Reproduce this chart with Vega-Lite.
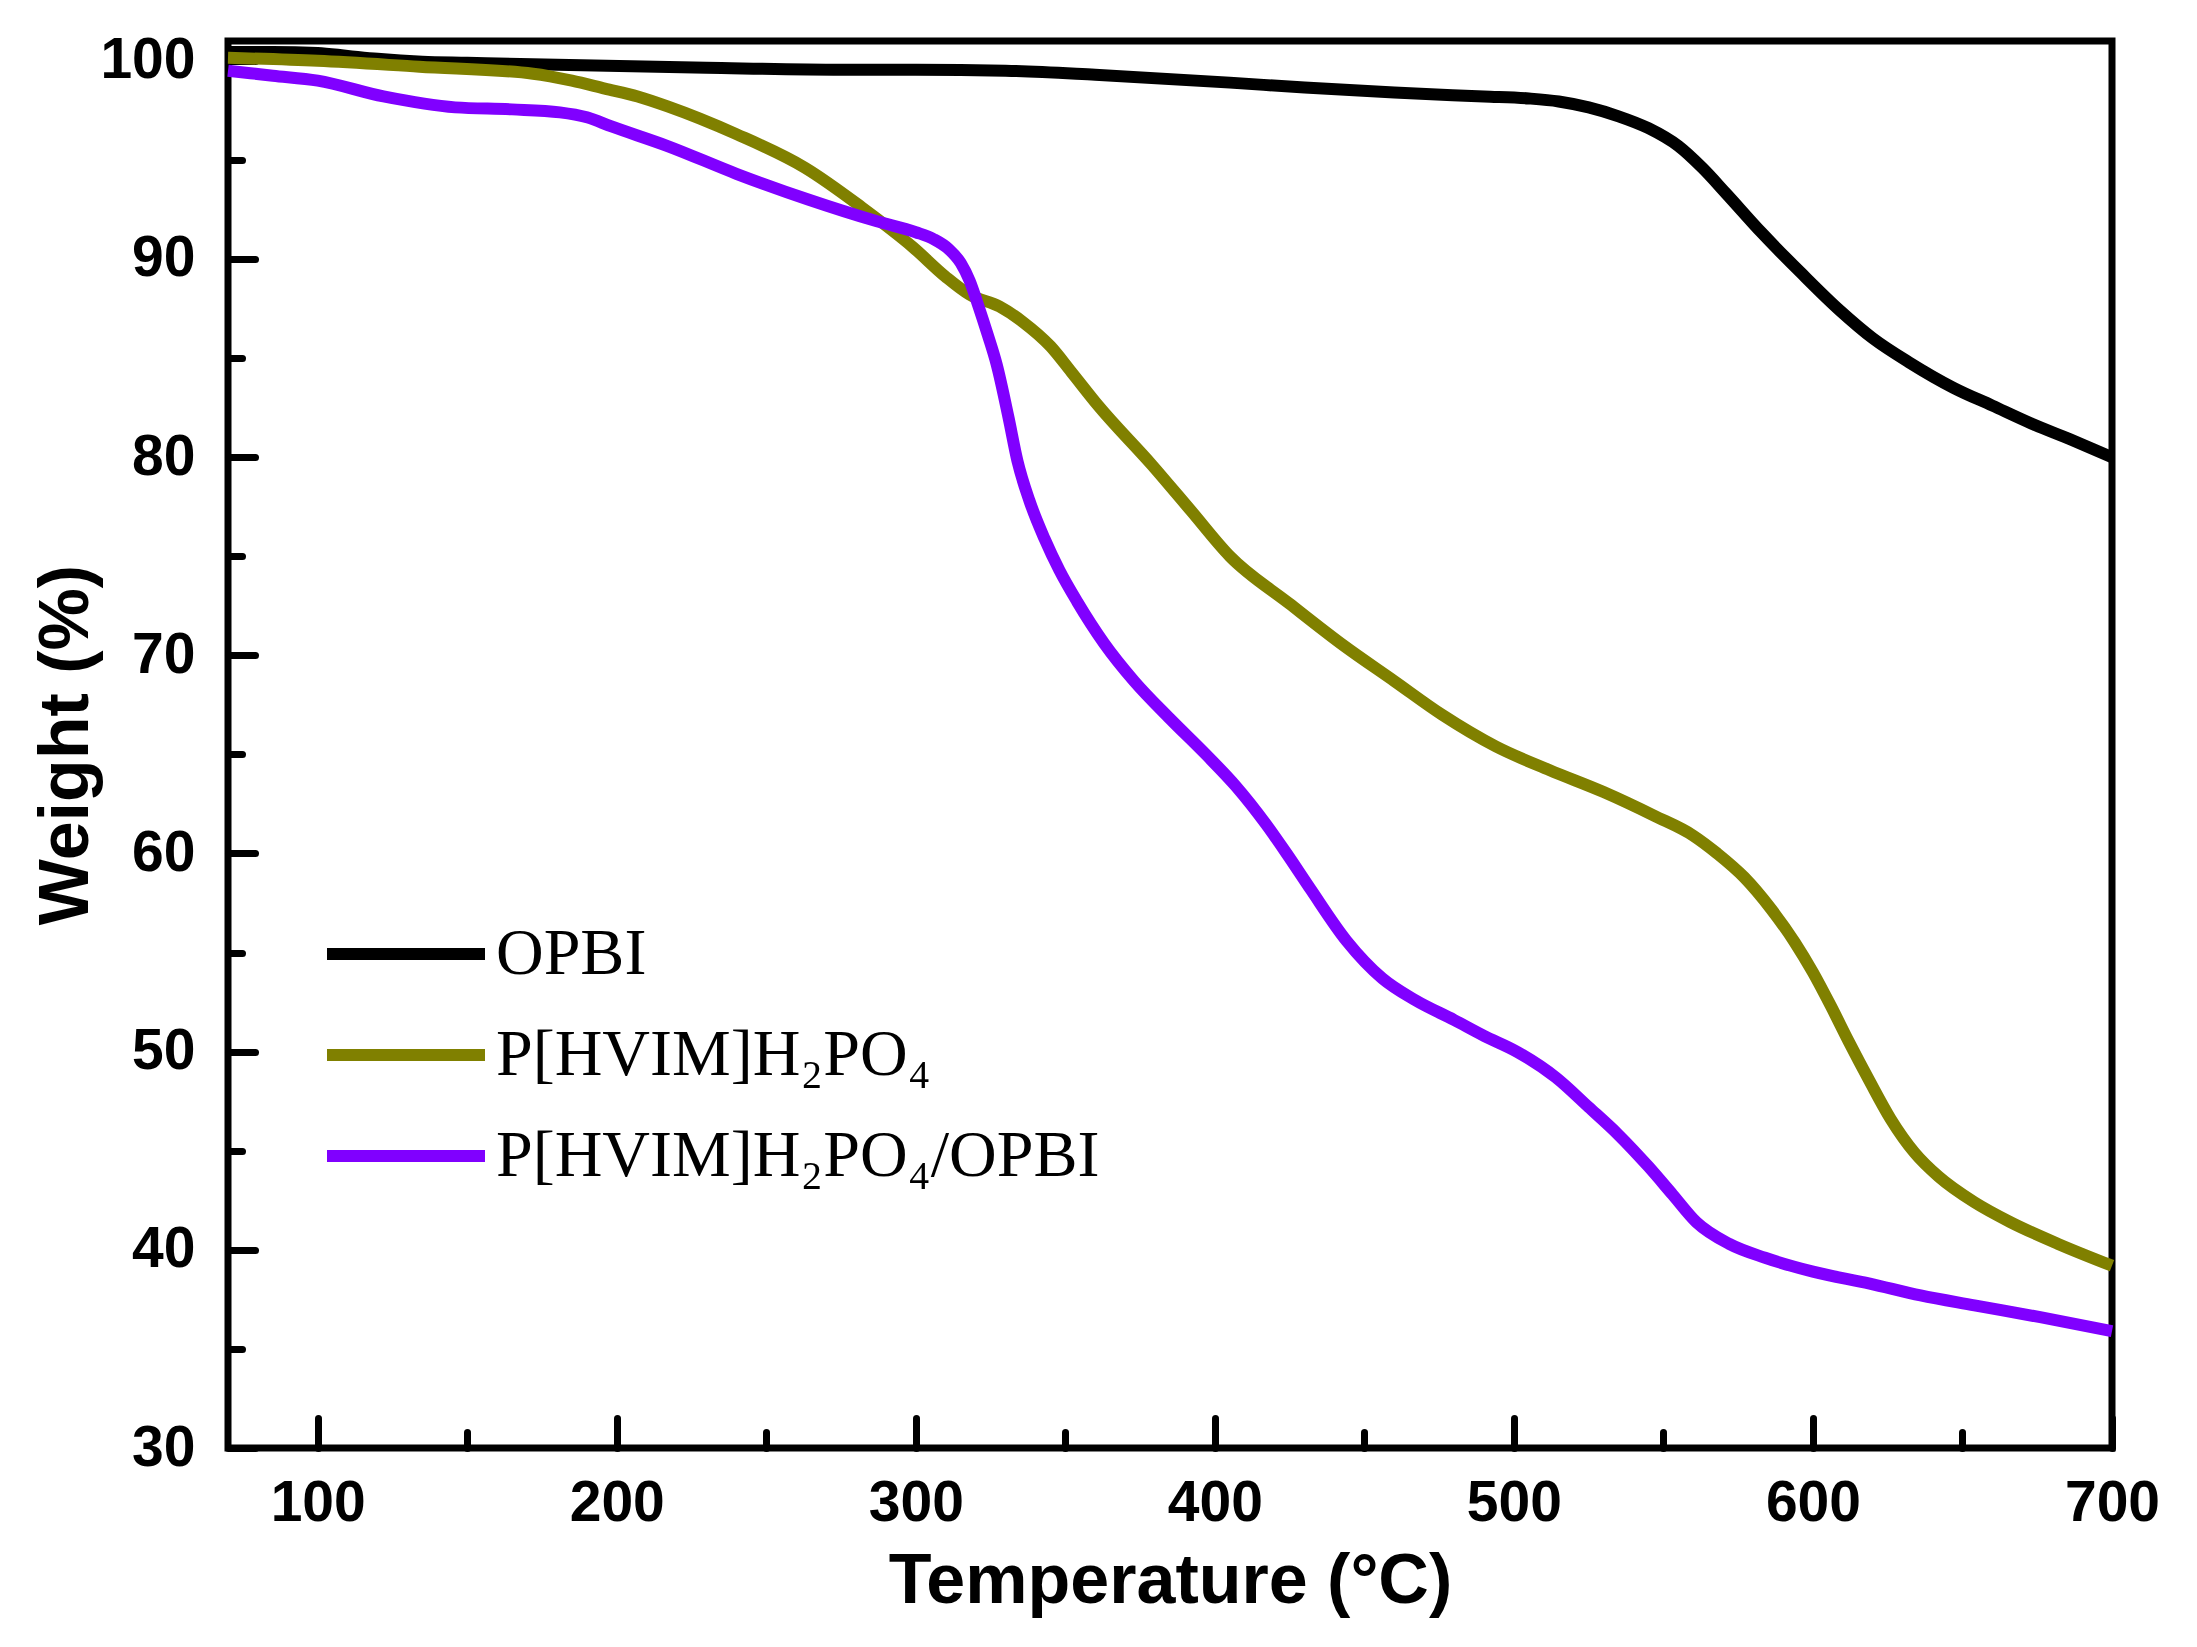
{
  "$schema": "https://vega.github.io/schema/vega-lite/v6.json",
  "description": "TGA curves of OPBI, P[HVIM]H2PO4 and the composite membrane",
  "width": 1884,
  "height": 1407,
  "autosize": {"type": "none"},
  "padding": {"left": 228, "top": 41, "right": 85, "bottom": 199},
  "background": "white",
  "config": {
    "view": {"stroke": "black", "strokeWidth": 7},
    "axis": {
      "domain": false,
      "grid": false,
      "labelFont": "Liberation Sans",
      "labelFontWeight": "bold",
      "labelFontSize": 57,
      "labelColor": "black",
      "labelFlush": false,
      "labelOverlap": false,
      "titleFont": "Liberation Sans",
      "titleFontWeight": "bold",
      "titleFontSize": 70,
      "titleColor": "black",
      "tickColor": "black",
      "tickWidth": 7,
      "tickCap": "round"
    }
  },
  "data": {
    "values": [
      {"series": "OPBI", "temp": 70, "weight": 100.45},
      {"series": "OPBI", "temp": 85, "weight": 100.45},
      {"series": "OPBI", "temp": 100, "weight": 100.4},
      {"series": "OPBI", "temp": 110, "weight": 100.25},
      {"series": "OPBI", "temp": 120, "weight": 100.1},
      {"series": "OPBI", "temp": 135, "weight": 99.95},
      {"series": "OPBI", "temp": 150, "weight": 99.9},
      {"series": "OPBI", "temp": 180, "weight": 99.8},
      {"series": "OPBI", "temp": 230, "weight": 99.65},
      {"series": "OPBI", "temp": 275, "weight": 99.55},
      {"series": "OPBI", "temp": 300, "weight": 99.55},
      {"series": "OPBI", "temp": 330, "weight": 99.5},
      {"series": "OPBI", "temp": 360, "weight": 99.3},
      {"series": "OPBI", "temp": 405, "weight": 98.9},
      {"series": "OPBI", "temp": 430, "weight": 98.65},
      {"series": "OPBI", "temp": 460, "weight": 98.4},
      {"series": "OPBI", "temp": 490, "weight": 98.2},
      {"series": "OPBI", "temp": 505, "weight": 98.1},
      {"series": "OPBI", "temp": 515, "weight": 97.95},
      {"series": "OPBI", "temp": 525, "weight": 97.65},
      {"series": "OPBI", "temp": 535, "weight": 97.2},
      {"series": "OPBI", "temp": 545, "weight": 96.6},
      {"series": "OPBI", "temp": 555, "weight": 95.7},
      {"series": "OPBI", "temp": 563, "weight": 94.6},
      {"series": "OPBI", "temp": 571, "weight": 93.3},
      {"series": "OPBI", "temp": 583, "weight": 91.3},
      {"series": "OPBI", "temp": 596, "weight": 89.3},
      {"series": "OPBI", "temp": 609, "weight": 87.4},
      {"series": "OPBI", "temp": 620, "weight": 86.0},
      {"series": "OPBI", "temp": 632, "weight": 84.8},
      {"series": "OPBI", "temp": 647, "weight": 83.5},
      {"series": "OPBI", "temp": 660, "weight": 82.6},
      {"series": "OPBI", "temp": 673, "weight": 81.7},
      {"series": "OPBI", "temp": 686, "weight": 80.9},
      {"series": "OPBI", "temp": 700, "weight": 80.0},

      {"series": "P[HVIM]H₂PO₄", "temp": 70, "weight": 100.15},
      {"series": "P[HVIM]H₂PO₄", "temp": 100, "weight": 100.0},
      {"series": "P[HVIM]H₂PO₄", "temp": 134, "weight": 99.7},
      {"series": "P[HVIM]H₂PO₄", "temp": 172, "weight": 99.35},
      {"series": "P[HVIM]H₂PO₄", "temp": 185, "weight": 99.0},
      {"series": "P[HVIM]H₂PO₄", "temp": 196, "weight": 98.6},
      {"series": "P[HVIM]H₂PO₄", "temp": 207, "weight": 98.2},
      {"series": "P[HVIM]H₂PO₄", "temp": 217, "weight": 97.7},
      {"series": "P[HVIM]H₂PO₄", "temp": 240, "weight": 96.3},
      {"series": "P[HVIM]H₂PO₄", "temp": 263, "weight": 94.6},
      {"series": "P[HVIM]H₂PO₄", "temp": 282, "weight": 92.6},
      {"series": "P[HVIM]H₂PO₄", "temp": 299, "weight": 90.6},
      {"series": "P[HVIM]H₂PO₄", "temp": 310, "weight": 89.1},
      {"series": "P[HVIM]H₂PO₄", "temp": 318, "weight": 88.2},
      {"series": "P[HVIM]H₂PO₄", "temp": 328, "weight": 87.6},
      {"series": "P[HVIM]H₂PO₄", "temp": 336, "weight": 86.8},
      {"series": "P[HVIM]H₂PO₄", "temp": 345, "weight": 85.6},
      {"series": "P[HVIM]H₂PO₄", "temp": 352, "weight": 84.3},
      {"series": "P[HVIM]H₂PO₄", "temp": 361, "weight": 82.6},
      {"series": "P[HVIM]H₂PO₄", "temp": 379, "weight": 79.6},
      {"series": "P[HVIM]H₂PO₄", "temp": 392, "weight": 77.3},
      {"series": "P[HVIM]H₂PO₄", "temp": 405, "weight": 75.0},
      {"series": "P[HVIM]H₂PO₄", "temp": 425, "weight": 72.6},
      {"series": "P[HVIM]H₂PO₄", "temp": 443, "weight": 70.5},
      {"series": "P[HVIM]H₂PO₄", "temp": 460, "weight": 68.7},
      {"series": "P[HVIM]H₂PO₄", "temp": 476, "weight": 67.0},
      {"series": "P[HVIM]H₂PO₄", "temp": 494, "weight": 65.4},
      {"series": "P[HVIM]H₂PO₄", "temp": 512, "weight": 64.2},
      {"series": "P[HVIM]H₂PO₄", "temp": 530, "weight": 63.1},
      {"series": "P[HVIM]H₂PO₄", "temp": 547, "weight": 61.9},
      {"series": "P[HVIM]H₂PO₄", "temp": 560, "weight": 60.9},
      {"series": "P[HVIM]H₂PO₄", "temp": 568, "weight": 60.0},
      {"series": "P[HVIM]H₂PO₄", "temp": 577, "weight": 58.8},
      {"series": "P[HVIM]H₂PO₄", "temp": 586, "weight": 57.2},
      {"series": "P[HVIM]H₂PO₄", "temp": 594, "weight": 55.5},
      {"series": "P[HVIM]H₂PO₄", "temp": 600, "weight": 54.0},
      {"series": "P[HVIM]H₂PO₄", "temp": 606, "weight": 52.3},
      {"series": "P[HVIM]H₂PO₄", "temp": 612, "weight": 50.5},
      {"series": "P[HVIM]H₂PO₄", "temp": 619, "weight": 48.5},
      {"series": "P[HVIM]H₂PO₄", "temp": 626, "weight": 46.6},
      {"series": "P[HVIM]H₂PO₄", "temp": 634, "weight": 44.9},
      {"series": "P[HVIM]H₂PO₄", "temp": 642, "weight": 43.7},
      {"series": "P[HVIM]H₂PO₄", "temp": 654, "weight": 42.4},
      {"series": "P[HVIM]H₂PO₄", "temp": 666, "weight": 41.4},
      {"series": "P[HVIM]H₂PO₄", "temp": 682, "weight": 40.3},
      {"series": "P[HVIM]H₂PO₄", "temp": 700, "weight": 39.2},

      {"series": "P[HVIM]H₂PO₄/OPBI", "temp": 70, "weight": 99.5},
      {"series": "P[HVIM]H₂PO₄/OPBI", "temp": 85, "weight": 99.25},
      {"series": "P[HVIM]H₂PO₄/OPBI", "temp": 100, "weight": 99.0},
      {"series": "P[HVIM]H₂PO₄/OPBI", "temp": 122, "weight": 98.2},
      {"series": "P[HVIM]H₂PO₄/OPBI", "temp": 146, "weight": 97.65},
      {"series": "P[HVIM]H₂PO₄/OPBI", "temp": 165, "weight": 97.55},
      {"series": "P[HVIM]H₂PO₄/OPBI", "temp": 181, "weight": 97.4},
      {"series": "P[HVIM]H₂PO₄/OPBI", "temp": 190, "weight": 97.15},
      {"series": "P[HVIM]H₂PO₄/OPBI", "temp": 198, "weight": 96.7},
      {"series": "P[HVIM]H₂PO₄/OPBI", "temp": 217, "weight": 95.7},
      {"series": "P[HVIM]H₂PO₄/OPBI", "temp": 240, "weight": 94.3},
      {"series": "P[HVIM]H₂PO₄/OPBI", "temp": 264, "weight": 93.0},
      {"series": "P[HVIM]H₂PO₄/OPBI", "temp": 287, "weight": 91.9},
      {"series": "P[HVIM]H₂PO₄/OPBI", "temp": 300, "weight": 91.35},
      {"series": "P[HVIM]H₂PO₄/OPBI", "temp": 306, "weight": 91.0},
      {"series": "P[HVIM]H₂PO₄/OPBI", "temp": 311, "weight": 90.5},
      {"series": "P[HVIM]H₂PO₄/OPBI", "temp": 315, "weight": 89.8},
      {"series": "P[HVIM]H₂PO₄/OPBI", "temp": 318, "weight": 88.9},
      {"series": "P[HVIM]H₂PO₄/OPBI", "temp": 321, "weight": 87.6},
      {"series": "P[HVIM]H₂PO₄/OPBI", "temp": 324, "weight": 86.2},
      {"series": "P[HVIM]H₂PO₄/OPBI", "temp": 327, "weight": 84.7},
      {"series": "P[HVIM]H₂PO₄/OPBI", "temp": 331, "weight": 82.0},
      {"series": "P[HVIM]H₂PO₄/OPBI", "temp": 334, "weight": 79.8},
      {"series": "P[HVIM]H₂PO₄/OPBI", "temp": 338, "weight": 77.8},
      {"series": "P[HVIM]H₂PO₄/OPBI", "temp": 343, "weight": 75.9},
      {"series": "P[HVIM]H₂PO₄/OPBI", "temp": 348, "weight": 74.3},
      {"series": "P[HVIM]H₂PO₄/OPBI", "temp": 354, "weight": 72.7},
      {"series": "P[HVIM]H₂PO₄/OPBI", "temp": 363, "weight": 70.6},
      {"series": "P[HVIM]H₂PO₄/OPBI", "temp": 373, "weight": 68.7},
      {"series": "P[HVIM]H₂PO₄/OPBI", "temp": 385, "weight": 66.8},
      {"series": "P[HVIM]H₂PO₄/OPBI", "temp": 397, "weight": 65.0},
      {"series": "P[HVIM]H₂PO₄/OPBI", "temp": 407, "weight": 63.4},
      {"series": "P[HVIM]H₂PO₄/OPBI", "temp": 417, "weight": 61.5},
      {"series": "P[HVIM]H₂PO₄/OPBI", "temp": 424, "weight": 60.0},
      {"series": "P[HVIM]H₂PO₄/OPBI", "temp": 432, "weight": 58.2},
      {"series": "P[HVIM]H₂PO₄/OPBI", "temp": 444, "weight": 55.6},
      {"series": "P[HVIM]H₂PO₄/OPBI", "temp": 456, "weight": 53.7},
      {"series": "P[HVIM]H₂PO₄/OPBI", "temp": 467, "weight": 52.6},
      {"series": "P[HVIM]H₂PO₄/OPBI", "temp": 480, "weight": 51.6},
      {"series": "P[HVIM]H₂PO₄/OPBI", "temp": 490, "weight": 50.8},
      {"series": "P[HVIM]H₂PO₄/OPBI", "temp": 501, "weight": 50.0},
      {"series": "P[HVIM]H₂PO₄/OPBI", "temp": 514, "weight": 48.7},
      {"series": "P[HVIM]H₂PO₄/OPBI", "temp": 525, "weight": 47.2},
      {"series": "P[HVIM]H₂PO₄/OPBI", "temp": 535, "weight": 45.8},
      {"series": "P[HVIM]H₂PO₄/OPBI", "temp": 545, "weight": 44.2},
      {"series": "P[HVIM]H₂PO₄/OPBI", "temp": 553, "weight": 42.8},
      {"series": "P[HVIM]H₂PO₄/OPBI", "temp": 561, "weight": 41.4},
      {"series": "P[HVIM]H₂PO₄/OPBI", "temp": 572, "weight": 40.3},
      {"series": "P[HVIM]H₂PO₄/OPBI", "temp": 584, "weight": 39.6},
      {"series": "P[HVIM]H₂PO₄/OPBI", "temp": 600, "weight": 38.9},
      {"series": "P[HVIM]H₂PO₄/OPBI", "temp": 619, "weight": 38.3},
      {"series": "P[HVIM]H₂PO₄/OPBI", "temp": 636, "weight": 37.7},
      {"series": "P[HVIM]H₂PO₄/OPBI", "temp": 654, "weight": 37.2},
      {"series": "P[HVIM]H₂PO₄/OPBI", "temp": 676, "weight": 36.6},
      {"series": "P[HVIM]H₂PO₄/OPBI", "temp": 700, "weight": 35.9}
    ]
  },
  "mark": {"type": "line", "interpolate": "monotone", "strokeWidth": 12},
  "encoding": {
    "x": {
      "field": "temp",
      "type": "quantitative",
      "title": "Temperature (°C)",
      "scale": {"domain": [70, 700], "nice": false, "zero": false},
      "axis": {
        "values": [100, 150, 200, 250, 300, 350, 400, 450, 500, 550, 600, 650, 700],
        "labelExpr": "datum.value % 100 === 0 ? datum.label : ''",
        "tickSize": {"condition": {"test": "datum.value % 100 === 0", "value": -30}, "value": -16},
        "labelPadding": 57,
        "titlePadding": 2
      }
    },
    "y": {
      "field": "weight",
      "type": "quantitative",
      "title": "Weight (%)",
      "scale": {"domain": [30, 101], "nice": false, "zero": false},
      "axis": {
        "values": [30, 35, 40, 45, 50, 55, 60, 65, 70, 75, 80, 85, 90, 95, 100],
        "labelExpr": "datum.value % 10 === 0 ? datum.label : ''",
        "tickSize": {"condition": {"test": "datum.value % 10 === 0", "value": -27}, "value": -14},
        "labelPadding": 60,
        "titlePadding": -3
      }
    },
    "color": {
      "field": "series",
      "type": "nominal",
      "scale": {
        "domain": ["OPBI", "P[HVIM]H₂PO₄", "P[HVIM]H₂PO₄/OPBI"],
        "range": ["#000000", "#808000", "#8000FF"]
      },
      "legend": {
        "title": null,
        "orient": "none",
        "legendX": 93,
        "legendY": 880,
        "padding": 0,
        "symbolType": "stroke",
        "symbolSize": 24964,
        "symbolStrokeWidth": 12,
        "clipHeight": 66,
        "rowPadding": 35,
        "labelFont": "Liberation Serif",
        "labelFontSize": 66,
        "labelColor": "black",
        "labelOffset": 5,
        "labelLimit": 0
      }
    }
  }
}
